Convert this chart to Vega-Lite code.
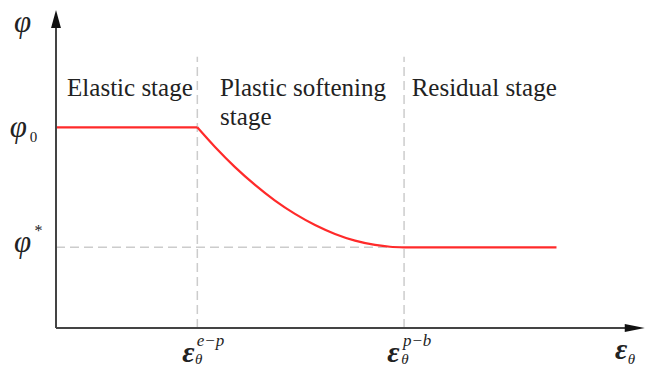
{
  "$schema": "https://vega.github.io/schema/vega-lite/v6.json",
  "width": 584,
  "height": 318,
  "autosize": {"type": "none"},
  "padding": {"left": 56, "top": 10, "right": 7, "bottom": 39},
  "background": "white",
  "config": {"view": {"stroke": null}},
  "datasets": {
    "vdash": [{"x": 2.42, "y": 0, "y2": 8.53}, {"x": 5.96, "y": 0, "y2": 8.53}],
    "hdash": [{"x": 0, "x2": 5.96, "y": 2.54}],
    "yaxis": [{"x": 0, "y": 0, "y2": 9.72}],
    "xaxis": [{"x": 0, "x2": 9.91, "y": 0}],
    "yarrow": [{"x": 0, "y": 9.72}],
    "xarrow": [{"x": 9.91, "y": 0}],
    "curve": [
      {"seg": "elastic", "x": 0, "y": 6.311},
      {"seg": "elastic", "x": 2.419, "y": 6.311},
      {"seg": "softening", "x": 2.419, "y": 6.311},
      {"seg": "softening", "x": 2.723, "y": 5.692},
      {"seg": "softening", "x": 3.065, "y": 5.06},
      {"seg": "softening", "x": 3.408, "y": 4.5},
      {"seg": "softening", "x": 3.75, "y": 4.006},
      {"seg": "softening", "x": 4.092, "y": 3.588},
      {"seg": "softening", "x": 4.435, "y": 3.239},
      {"seg": "softening", "x": 4.777, "y": 2.959},
      {"seg": "softening", "x": 5.12, "y": 2.748},
      {"seg": "softening", "x": 5.462, "y": 2.613},
      {"seg": "softening", "x": 5.719, "y": 2.555},
      {"seg": "softening", "x": 5.959, "y": 2.538},
      {"seg": "residual", "x": 5.959, "y": 2.538},
      {"seg": "residual", "x": 8.57, "y": 2.538}
    ],
    "stages": [
      {"label": "Elastic stage", "x": 0.19, "y": 7.3},
      {"label": "Plastic softening", "x": 2.81, "y": 7.3},
      {"label": "stage", "x": 2.81, "y": 6.38},
      {"label": "Residual stage", "x": 6.09, "y": 7.3}
    ],
    "phi": [
      {"label": "φ", "x": -0.72, "y": 9.31},
      {"label": "φ", "x": -0.79, "y": 6.0},
      {"label": "φ", "x": -0.72, "y": 2.39}
    ],
    "phisub": [{"label": "0", "x": -0.45, "y": 5.85}],
    "phisup": [{"label": "*", "x": -0.37, "y": 2.89}],
    "eps": [
      {"label": "ε", "x": 2.16, "y": -1.06},
      {"label": "ε", "x": 5.67, "y": -1.06},
      {"label": "ε", "x": 9.57, "y": -0.99}
    ],
    "epssup": [
      {"label": "e−p", "x": 2.41, "y": -0.58},
      {"label": "p−b", "x": 5.94, "y": -0.58}
    ],
    "epssub": [
      {"label": "θ", "x": 2.38, "y": -1.14},
      {"label": "θ", "x": 5.91, "y": -1.14},
      {"label": "θ", "x": 9.79, "y": -1.14}
    ]
  },
  "encoding": {
    "x": {"field": "x", "type": "quantitative", "scale": {"domain": [0, 10], "nice": false, "zero": false}, "axis": null},
    "y": {"field": "y", "type": "quantitative", "scale": {"domain": [0, 10], "nice": false, "zero": false}, "axis": null}
  },
  "layer": [
    {"data": {"name": "vdash"}, "mark": {"type": "rule", "color": "#cccccc", "strokeWidth": 1.5, "strokeDash": [9, 5]}, "encoding": {"y2": {"field": "y2"}}},
    {"data": {"name": "hdash"}, "mark": {"type": "rule", "color": "#cccccc", "strokeWidth": 1.5, "strokeDash": [9, 5]}, "encoding": {"x2": {"field": "x2"}}},
    {"data": {"name": "curve"}, "mark": {"type": "line", "color": "#ff2a2a", "strokeWidth": 2.2, "interpolate": "monotone"}, "encoding": {"detail": {"field": "seg"}, "order": {"field": "x", "type": "quantitative"}}},
    {"data": {"name": "yaxis"}, "mark": {"type": "rule", "color": "#444444", "strokeWidth": 2}, "encoding": {"y2": {"field": "y2"}}},
    {"data": {"name": "xaxis"}, "mark": {"type": "rule", "color": "#444444", "strokeWidth": 2}, "encoding": {"x2": {"field": "x2"}}},
    {"data": {"name": "yarrow"}, "mark": {"type": "point", "filled": true, "color": "#111111", "opacity": 1, "size": 324, "shape": "M0,-1L0.55,1L-0.55,1Z"}},
    {"data": {"name": "xarrow"}, "mark": {"type": "point", "filled": true, "color": "#111111", "opacity": 1, "size": 400, "shape": "M1,0L-1,0.4L-1,-0.4Z"}},
    {"data": {"name": "stages"}, "mark": {"type": "text", "align": "left", "baseline": "alphabetic", "font": "Liberation Serif", "fontSize": 25, "color": "#222222"}, "encoding": {"text": {"field": "label"}}},
    {"data": {"name": "phi"}, "mark": {"type": "text", "align": "left", "baseline": "alphabetic", "font": "Liberation Serif", "fontStyle": "italic", "fontSize": 31, "color": "#222222"}, "encoding": {"text": {"field": "label"}}},
    {"data": {"name": "phisub"}, "mark": {"type": "text", "align": "left", "baseline": "alphabetic", "font": "Liberation Serif", "fontSize": 15, "color": "#222222"}, "encoding": {"text": {"field": "label"}}},
    {"data": {"name": "phisup"}, "mark": {"type": "text", "align": "left", "baseline": "alphabetic", "font": "Liberation Serif", "fontSize": 16, "color": "#222222"}, "encoding": {"text": {"field": "label"}}},
    {"data": {"name": "eps"}, "mark": {"type": "text", "align": "left", "baseline": "alphabetic", "font": "Liberation Serif", "fontStyle": "italic", "fontWeight": "bold", "fontSize": 30, "color": "#222222"}, "encoding": {"text": {"field": "label"}}},
    {"data": {"name": "epssup"}, "mark": {"type": "text", "align": "left", "baseline": "alphabetic", "font": "Liberation Serif", "fontStyle": "italic", "fontSize": 17, "color": "#222222"}, "encoding": {"text": {"field": "label"}}},
    {"data": {"name": "epssub"}, "mark": {"type": "text", "align": "left", "baseline": "alphabetic", "font": "Liberation Serif", "fontStyle": "italic", "fontSize": 15, "color": "#222222"}, "encoding": {"text": {"field": "label"}}}
  ]
}
